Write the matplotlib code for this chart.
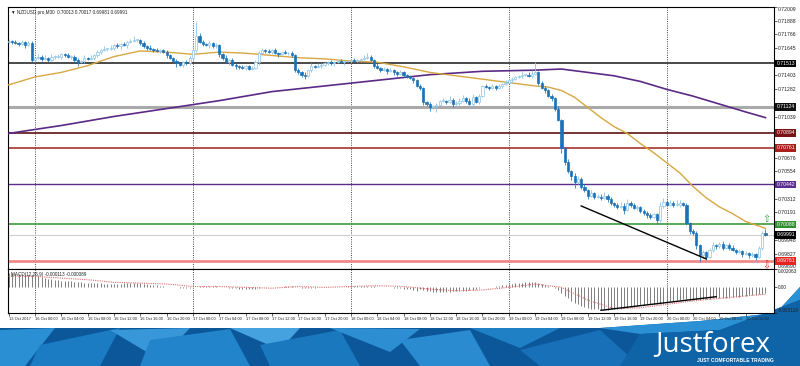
import matplotlib
matplotlib.use('Agg')
import matplotlib.pyplot as plt
from matplotlib.patches import Polygon
import numpy as np
import pandas as pd

plt.rcParams['font.family'] = ['Liberation Sans', 'DejaVu Sans']

# NZDUSD M30, 13 Oct 2017 20:00 .. 20 Oct 2017 ~13:00
# prices kept in pips above 0.69000
BASE = 0.69
first_open = 270
closes = [
    271, 270, 269, 268, 270, 267, 269, 254,
    256, 257, 255, 256, 254, 257, 257,
    257, 259, 258, 257, 257,
    254, 252, 253, 256, 255,
    256, 258, 261, 263, 264,
    264, 265, 267, 266, 268,
    267, 270, 271, 272, 272,
    269, 266, 265, 264, 263,
    262, 263, 261, 258, 256,
    253, 251, 250, 252, 251,
    256, 263, 275,
    270, 268, 267, 269, 266,
    267, 259,
    256, 252, 254, 250, 249,
    248, 247, 249, 246, 247,
    252, 260,
    263, 262, 261, 263, 260, 259, 261, 260,
    260, 258, 245,
    243, 241, 240, 245,
    249, 248, 249, 250, 251,
    252, 251, 252, 253, 252, 253, 253,
    254, 253, 254, 255, 256, 257,
    254, 249,
    247, 245, 246, 244, 245, 243,
    242, 243, 241, 239,
    238, 236, 231,
    229, 217,
    215, 212, 213, 214, 218,
    218, 217, 219, 215, 216,
    218, 220, 218, 215, 221,
    217, 222, 231,
    230, 229, 231, 229, 231,
    233, 234, 236, 237, 239,
    240, 241, 241, 240, 242,
    243, 234,
    229, 227, 222, 220,
    211, 201, 176, 164,
    156, 151, 146, 149, 142,
    139, 134, 136, 133, 133,
    132, 134, 131, 127, 126,
    124, 125, 121, 127, 126,
    123, 124, 120, 119, 117,
    115, 118, 112,
    125, 128, 126,
    127, 126, 126, 127, 126,
    110, 103,
    101, 90, 81,
    84, 80, 86, 90,
    89, 91, 88, 90, 88,
    86, 84, 85, 82, 83,
    81, 82, 80,
    88, 101, 99,
]
up_wick = [
    2, 1, 2, 1, 2, 1, 2, 2,
    1, 2, 1, 2, 1, 2, 1,
    2, 1, 1, 2, 1,
    1, 2, 1, 2, 1,
    2, 1, 2, 1, 2,
    1, 2, 1, 2, 1,
    2, 1, 2, 3, 1,
    1, 2, 1, 2, 1,
    2, 1, 1, 2, 1,
    1, 2, 1, 1, 2,
    2, 3, 13,
    3, 2, 1, 2, 1,
    2, 1,
    1, 2, 1, 2, 1,
    1, 2, 1, 1, 2,
    2, 2,
    2, 1, 2, 1, 2, 1, 1, 2,
    1, 2, 1,
    2, 1, 2, 1,
    2, 1, 2, 1, 1,
    1, 2, 1, 1, 2, 1, 1,
    1, 2, 1, 1, 2, 3,
    1, 1,
    2, 1, 2, 1, 2, 1,
    1, 2, 1, 1,
    2, 1, 1,
    2, 1,
    1, 2, 1, 2, 1,
    2, 1, 3, 1, 2,
    2, 3, 1, 2, 3,
    1, 2, 1,
    2, 1, 2, 1, 2,
    1, 2, 1, 2, 1,
    1, 2, 1, 2, 3,
    9, 1,
    1, 2, 1, 2,
    1, 2, 1, 1,
    2, 1, 3, 2, 1,
    2, 1, 3, 1, 2,
    2, 3, 1, 2, 1,
    1, 3, 2, 4, 2,
    1, 2, 1, 2, 1,
    2, 1, 1,
    3, 4, 2,
    3, 2, 4, 3, 1,
    1, 1,
    1, 2, 1,
    2, 1, 2, 3,
    1, 2, 3, 1, 2,
    2, 1, 2, 1, 2,
    1, 2, 1,
    1, 2, 3,
]
down_wick = [
    1, 2, 1, 2, 1, 2, 1, 2,
    2, 1, 2, 1, 2, 1, 2,
    1, 2, 1, 1, 2,
    2, 3, 1, 2, 1,
    1, 2, 1, 2, 1,
    2, 1, 2, 1, 2,
    1, 2, 1, 1, 2,
    2, 1, 2, 1, 2,
    1, 2, 1, 2, 1,
    2, 3, 1, 2, 1,
    1, 2, 2,
    1, 2, 1, 2, 1,
    1, 2,
    2, 1, 2, 1, 3,
    2, 1, 2, 1, 1,
    1, 2,
    1, 2, 1, 2, 1, 2, 1, 1,
    2, 1, 2,
    1, 2, 3, 1,
    2, 1, 1, 2, 1,
    1, 1, 2, 1, 1, 2, 1,
    2, 1, 1, 2, 1, 1,
    1, 2,
    1, 2, 1, 2, 1, 2,
    2, 1, 2, 1,
    1, 2, 1,
    2, 3,
    2, 3, 1, 5, 1,
    1, 2, 1, 3, 1,
    2, 1, 2, 1, 2,
    1, 2, 1,
    1, 2, 1, 2, 1,
    2, 1, 1, 2, 1,
    1, 2, 1, 1, 2,
    1, 2,
    1, 2, 1, 2,
    2, 1, 4, 3,
    2, 3, 5, 2, 2,
    2, 3, 1, 2, 1,
    2, 1, 3, 1, 2,
    2, 1, 3, 1, 2,
    1, 2, 1, 2, 3,
    2, 1, 3,
    1, 2, 1,
    1, 2, 1, 2, 1,
    2, 3,
    2, 3, 6,
    2, 3, 1, 2,
    2, 1, 2, 1, 2,
    1, 2, 1, 2, 1,
    2, 1, 3,
    1, 2, 1,
]

# moving averages read at sampled bars (pips above 0.69)
ma_fast_bars = [0, 8, 16, 24, 32, 40, 48, 56, 64, 72, 80, 88, 96, 104, 112, 120, 128, 136, 144, 152, 160,
                164, 168, 172, 176, 180, 184, 188, 192, 196, 200, 204, 208, 212, 216, 220, 224, 230]
ma_fast = [232, 239, 243, 249, 257, 262, 261, 259, 261, 260, 258, 256, 255, 253, 252, 248, 243, 240, 237, 234, 231,
           230, 227, 221, 212, 203, 195, 189, 180, 172, 163, 154, 142, 132, 124, 118, 111, 105]
ma_slow_bars = [0, 16, 32, 48, 64, 80, 96, 112, 128, 144, 160, 168, 176, 184, 192, 200, 208, 216, 224, 230]
ma_slow = [189, 196, 204, 211, 218, 226, 231, 236, 241, 244, 245, 246, 243, 240, 235, 228, 222, 215, 208, 203]

# MACD main (histogram) per bar and signal at sampled bars, units of 0.0001
macd_main = [
    16, 16, 15, 15, 15, 14, 14, 13, 13,
    12, 11, 10, 9, 9, 8, 8,
    7, 7, 6, 6, 5, 5, 5, 4, 4, 4, 4, 4, 4,
    3, 3, 3, 3, 3, 3, 4, 4, 4, 4, 4, 4,
    3, 3, 2, 2, 2, 1, 1, 0, 0, -1, -1, -2, -2, -2, -2,
    -1, 0, 1, 1, 1, 1, 1, 1,
    0, -1, -1, -2, -2, -2, -3, -3, -3, -3, -3, -3, -2,
    -1, -1, 0, 0, 0, 0, 0, 1, 1, 1,
    0, -1, -2, -2, -2,
    -2, -2, -1, -1, -1, -1, 0, 0, 0, 0, 0, 1, 1, 1, 1, 1, 1, 1, 1,
    1, 0, 0, -1, -1, -1, -2, -2, -2, -3, -3, -3, -4, -5,
    -3, -4, -5, -5, -6, -6, -6, -6, -6, -6, -5, -5, -5, -5, -5, -4, -4,
    -3, -2, -1, -1, 0, 0, 1, 1, 2, 2, 3, 3, 4, 4, 4, 5, 5, 5,
    5, 4, 3, 2, 1, 0,
    -2, -4, -8, -11, -14, -17, -19, -21, -23, -24, -25, -26, -27, -27, -28,
    -28, -28, -27, -27, -26, -26, -25, -25, -24, -24, -23, -22, -22, -21, -21,
    -21, -20, -20, -19, -18, -17, -17, -16, -16, -15, -15,
    -16, -16, -16, -16, -15, -15, -15, -14, -14, -14, -13, -13, -13, -12, -12, -12,
    -11, -11, -10, -10, -10, -9, -9, -8,
]
signal_bars = [0, 8, 16, 24, 32, 40, 48, 56, 64, 72, 80, 88, 96, 104, 112, 120, 128, 136, 144, 152,
               160, 168, 176, 184, 192, 200, 208, 216, 224, 230]
signal = [12, 12, 10, 8, 5, 4, 3, 0, 0, -1, -2, 0, -1, 0, 1, 0, -3, -5, -4, -1,
          3, -1, -16, -26, -25, -21, -17, -14, -11, -9]

# horizontal levels drawn on the chart
level_prices = [0.71513, 0.71124, 0.70894, 0.70761, 0.70442, 0.70088, 0.69991, 0.69761]
level_colors = ['#2b2b2b', '#a9a9a9', '#5e1212', '#a8322d', '#5c2d91', '#3c9a3c', '#cfcfcf', '#f08a8a']
level_widths = [1.2, 2.2, 1.2, 1.2, 1.0, 1.2, 0.8, 2.0]
label_colors = ['#000000', '#111111', '#7a1414', '#a8201c', '#5c2d91', '#2f8f2f', '#000000', '#e8231f']

price_ticks = [0.72009, 0.71888, 0.71766, 0.71645, 0.71403, 0.71282, 0.71039,
               0.70676, 0.70554, 0.70312, 0.70191, 0.69948, 0.69827, 0.69690]

trend_bars = [174, 212]
trend_prices = [0.70248, 0.69779]
macd_trend_bars = [180, 215]
macd_trend = [-28, -12]
alert_bars = [230.3, 230.3]
alert_prices = [0.70133, 0.69725]
day_starts = [8, 56, 104, 152, 200]

xtick_bars = list(range(0, 225, 8))
xtick_labels = ['13 Oct 2017'] + [t.strftime('%d Oct %H:%M') for t in
                                  pd.date_range('2017-10-16 00:00', '2017-10-20 12:00', freq='4h')]

# ---------------------------------------------------------------------------
W, H = 800, 366
fig = plt.figure(figsize=(8, 3.66), dpi=100)


def frame(x0, y0, x1, y1):
    return [x0 / W, 1 - y1 / H, (x1 - x0) / W, (y1 - y0) / H]


# footer banner
bg = fig.add_axes([0, 0, 1, 1], zorder=0)
bg.set_xlim(0, W)
bg.set_ylim(H, 0)
bg.axis('off')
bg.add_patch(Polygon([(0, 328), (600, 328), (700, 321), (776, 313), (800, 287), (800, 366), (0, 366)],
                     closed=True, fc='#0b5799', ec='none'))
shards = [
    ([(0, 330), (55, 328), (25, 366), (0, 366)], '#2a8fd3'),
    ([(40, 345), (120, 328), (100, 366), (30, 366)], '#1b7cc4'),
    ([(110, 330), (190, 328), (160, 360)], '#3797d8'),
    ([(150, 340), (230, 329), (250, 366), (140, 366)], '#2285cb'),
    ([(230, 328), (300, 328), (280, 350)], '#45a2df'),
    ([(260, 345), (340, 330), (360, 366), (270, 366)], '#1a78bf'),
    ([(330, 328), (420, 329), (390, 352)], '#2d8fd2'),
    ([(400, 340), (470, 330), (490, 366), (420, 366)], '#2a8bd0'),
    ([(470, 328), (560, 328), (520, 348)], '#1f80c6'),
    ([(520, 350), (600, 330), (640, 366), (540, 366)], '#1870b8'),
    ([(600, 328), (700, 321), (776, 313), (800, 287), (800, 300), (720, 330), (640, 334)], '#2b90d4'),
    ([(640, 334), (720, 330), (800, 300), (800, 366), (620, 366)], '#0f64a8'),
]
for pts, col in shards:
    bg.add_patch(Polygon(pts, closed=True, fc=col, ec='none'))
fig.text(655 / W, 1 - 351 / H, 'Justforex', color='white', fontsize=20, family='Open Sans',
         va='baseline', ha='left')
fig.text(697 / W, 1 - 362 / H, 'JUST COMFORTABLE TRADING', color='white', fontsize=3.6,
         fontweight='bold', va='baseline', ha='left')

# price panel
ax = fig.add_axes(frame(8, 7, 774, 269), zorder=2)
ax2 = fig.add_axes(frame(8, 269, 774, 313), zorder=2)

n = len(closes)
x = np.arange(n)
c = np.array(closes, float)
o = np.concatenate([[first_open], c[:-1]])
hi = np.maximum(o, c) + np.array(up_wick)
lo = np.minimum(o, c) - np.array(down_wick)
c, o, hi, lo = [BASE + v / 1e4 for v in (c, o, hi, lo)]
bull = c >= o

for b in day_starts:
    for a in (ax, ax2):
        a.axvline(b, color='#333333', lw=0.6, ls=(0, (1.2, 1.5)), zorder=1)

for p, col, lw in zip(level_prices, level_colors, level_widths):
    ax.axhline(p, color=col, lw=lw, zorder=2)

ax.plot(ma_slow_bars, BASE + np.array(ma_slow) / 1e4, color='#5b2a86', lw=1.2, zorder=3)
ax.plot(ma_fast_bars, BASE + np.array(ma_fast) / 1e4, color='#d7a742', lw=1.0, zorder=3)

wick_cols = np.where(bull, '#8cc4e6', '#2a7dbd')
ax.vlines(x, lo, hi, colors=wick_cols, lw=0.6, zorder=4)
body = np.maximum(np.abs(c - o), 0.00004)
ax.bar(x, body, bottom=np.minimum(o, c), width=0.66,
       color=np.where(bull, '#ffffff', '#1c72b8'),
       edgecolor=np.where(bull, '#8cc4e6', '#1c72b8'), linewidth=0.5, zorder=5)

ax.plot(trend_bars, trend_prices, color='black', lw=1.0, zorder=6)
ax.text(alert_bars[0], alert_prices[0], '\u21e7', color='#3c9a3c', fontsize=7, ha='center', va='center',
        family='DejaVu Sans', zorder=6)
ax.text(alert_bars[1], alert_prices[1], '\u21e9', color='#e8231f', fontsize=7, ha='center', va='center',
        family='DejaVu Sans', zorder=6)

ax.set_xlim(-0.2, 232.6)
ax.set_ylim(0.696901, 0.720088)
ax.set_xticks([])
ax.yaxis.tick_right()
ax.set_yticks(price_ticks)
ax.set_yticklabels([f'{v:.5f}' for v in price_ticks])
ax.tick_params(axis='y', labelsize=3.7, length=2, width=0.5, pad=1, colors='#222222')
plab = ax.get_yticklabels()
plab[0].set_va('top')
plab[-1].set_va('bottom')
for sp in ax.spines.values():
    sp.set_linewidth(0.8)
for p, col in zip(level_prices, label_colors):
    ax.text(1.003, p, f'{p:.5f}', transform=ax.get_yaxis_transform(), fontsize=3.7, color='white',
            ha='left', va='center', zorder=7, clip_on=False,
            bbox=dict(boxstyle='square,pad=0.2', fc=col, ec='none'))
ax.text(0.004, 0.988, '\u25bc NZDUSD.pro,M30  0.70013 0.70017 0.69981 0.69991', transform=ax.transAxes,
        fontsize=3.3, va='top', ha='left', color='#222222')

# MACD panel
m = np.array(macd_main) / 1e4
ax2.vlines(x, 0, m, colors='#7d7d7d', lw=0.7, zorder=3)
ax2.plot(signal_bars, np.array(signal) / 1e4, color='#e07070', lw=0.8, ls=(0, (1, 1)), zorder=4)
ax2.plot(macd_trend_bars, np.array(macd_trend) / 1e4, color='black', lw=1.0, zorder=5)
ax2.set_xlim(-0.2, 232.6)
ax2.set_ylim(-0.003118, 0.002063)
ax2.yaxis.tick_right()
ax2.set_yticks([0.002063, 0.0, -0.003118])
ax2.set_yticklabels(['0.002063', '0.00', '-0.003118'])
ylab = ax2.get_yticklabels()
ylab[0].set_va('top')
ylab[2].set_va('bottom')
ax2.tick_params(axis='y', labelsize=3.4, length=2, width=0.5, pad=1, colors='#222222')
ax2.set_xticks(xtick_bars)
ax2.set_xticklabels(xtick_labels, ha='left')
ax2.tick_params(axis='x', labelsize=2.9, length=2, width=0.5, pad=0.8, colors='#222222')
for sp in ax2.spines.values():
    sp.set_linewidth(0.8)
ax2.text(0.004, 0.93, 'MACD(12,26,9) -0.000113 -0.000089', transform=ax2.transAxes,
         fontsize=3.3, va='top', ha='left', color='#222222')

fig.savefig('out.png', dpi=100)
